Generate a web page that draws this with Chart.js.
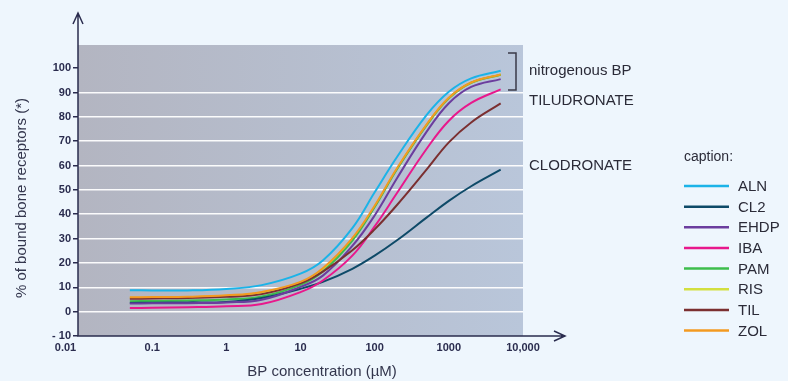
<!DOCTYPE html>
<html>
<head>
<meta charset="utf-8">
<script src="https://cdn.jsdelivr.net/npm/chart.js@4.4.1/dist/chart.umd.min.js"></script>
<style>
  html, body { margin: 0; padding: 0; background: #eef6fd; }
  canvas { display: block; }
</style>
</head>
<body>
<canvas id="chart" width="788" height="381"></canvas>
<script>
// BP concentration (µM) at which each curve was read
const concentrations = [0.05, 0.1, 0.3, 1, 3, 10, 20, 50, 100, 200, 500, 1000, 2000, 5000];

// % of bound bone receptors
const aln  = [8.8, 8.7, 8.7, 9.3, 10.9, 15.6, 21.0, 34.3, 49.0, 63.5, 80.7, 90.3, 95.8, 98.9];
const cl2  = [3.6, 3.7, 3.8, 4.0, 5.6, 9.4, 12.2, 17.6, 23.0, 29.3, 38.6, 45.5, 51.5, 58.3];
const ehdp = [3.3, 3.4, 3.5, 3.8, 4.9, 10.2, 14.8, 27.0, 39.5, 54.8, 73.8, 85.6, 92.3, 95.5];
const iba  = [1.5, 1.6, 1.8, 2.2, 3.1, 8.0, 12.8, 23.0, 35.0, 48.7, 66.8, 78.4, 85.7, 91.3];
const pam  = [4.3, 4.4, 4.6, 5.0, 6.2, 11.0, 16.5, 29.2, 43.0, 58.5, 76.5, 87.6, 94.0, 97.3];
const ris  = [5.7, 5.8, 5.9, 6.5, 7.9, 11.8, 17.4, 29.8, 43.2, 58.7, 76.6, 87.7, 94.0, 97.3];
const til  = [5.3, 5.4, 5.6, 6.1, 7.2, 11.6, 16.4, 25.2, 33.8, 43.8, 58.3, 69.5, 77.7, 85.5];
const zol  = [5.9, 6.0, 6.1, 6.7, 8.1, 12.2, 17.8, 30.2, 43.5, 58.9, 76.8, 87.8, 94.1, 97.4];

const seriesNames  = ['ALN', 'CL2', 'EHDP', 'IBA', 'PAM', 'RIS', 'TIL', 'ZOL'];
const seriesValues = [aln, cl2, ehdp, iba, pam, ris, til, zol];
const seriesColors = ['#1bb3e8', '#0e4a68', '#6b3d9e', '#e8188c', '#3dbd4b', '#d3df3f', '#7b2f30', '#f39a20'];
const drawOrder    = [0, 5, 3, 4, 6, 7, 2, 1]; // lower = on top

const xTickValues = [0.01, 0.1, 1, 10, 100, 1000, 10000];
const xTickLabels = ['0.01\u2003\u2003 ', '0.1', '1', '10', '100', '1000', '10,000'];
const yTickValues = [-10, 0, 10, 20, 30, 40, 50, 60, 70, 80, 90, 100];
const yTickLabels = ['- 10', '0', '10', '20', '30', '40', '50', '60', '70', '80', '90', '100'];

const NAVY = '#2a2c4e';
const TEXT = '#33364d';
const FONT = "'Liberation Sans', Arial, sans-serif";

const decor = {
    id: 'decor',
    beforeDraw(chart) {
        const { ctx, chartArea: a } = chart;
        ctx.save();
        ctx.fillStyle = '#eef6fd';
        ctx.fillRect(0, 0, chart.width, chart.height);
        const g = ctx.createLinearGradient(a.left, 0, a.right, 0);
        g.addColorStop(0, '#b3b5c1');
        g.addColorStop(1, '#b9c6da');
        ctx.fillStyle = g;
        ctx.fillRect(a.left, a.top, a.right - a.left, a.bottom - a.top);
        ctx.restore();
    },
    afterDraw(chart) {
        const { ctx, chartArea: a } = chart;
        ctx.save();

        // axes with open arrow heads
        ctx.strokeStyle = NAVY;
        ctx.lineWidth = 1.5;
        ctx.beginPath();
        ctx.moveTo(a.left, 14);
        ctx.lineTo(a.left, a.bottom);
        ctx.lineTo(565, a.bottom);
        ctx.moveTo(a.left - 5, 24);
        ctx.lineTo(a.left, 13);
        ctx.lineTo(a.left + 5, 24);
        ctx.moveTo(554, a.bottom - 5);
        ctx.lineTo(565, a.bottom);
        ctx.lineTo(554, a.bottom + 5);
        ctx.stroke();

        // bracket for nitrogenous BP
        ctx.strokeStyle = '#3a3a48';
        ctx.lineWidth = 1.5;
        ctx.beginPath();
        ctx.moveTo(508, 53);
        ctx.lineTo(516, 53);
        ctx.lineTo(516, 90);
        ctx.lineTo(508, 90);
        ctx.stroke();

        // axis titles
        ctx.fillStyle = TEXT;
        ctx.font = '15px ' + FONT;
        ctx.textAlign = 'center';
        ctx.textBaseline = 'middle';
        ctx.fillText('BP concentration (µM)', 322, 372);
        ctx.save();
        ctx.translate(22, 198);
        ctx.rotate(-Math.PI / 2);
        ctx.fillText('% of bound bone receptors (*)', 0, 0);
        ctx.restore();

        // annotations
        ctx.fillStyle = '#2b2b38';
        ctx.textAlign = 'left';
        ctx.font = '15px ' + FONT;
        ctx.fillText('nitrogenous BP', 529, 71);
        ctx.fillText('TILUDRONATE', 529, 101);
        ctx.fillText('CLODRONATE', 529, 166);

        // caption legend
        ctx.font = '14px ' + FONT;
        ctx.fillText('caption:', 684, 157);
        ctx.font = '15px ' + FONT;
        seriesNames.forEach((name, i) => {
            const y = 186 + i * 20.65;
            ctx.strokeStyle = seriesColors[i];
            ctx.lineWidth = 2.5;
            ctx.beginPath();
            ctx.moveTo(684, y);
            ctx.lineTo(729, y);
            ctx.stroke();
            ctx.fillStyle = '#2b2b38';
            ctx.fillText(name, 738, y + 1);
        });
        ctx.restore();
    }
};

const datasets = seriesNames.map((name, i) => ({
    label: name,
    data: concentrations.map((c, j) => ({ x: c, y: seriesValues[i][j] })),
    borderColor: seriesColors[i],
    borderWidth: 2,
    order: drawOrder[i],
    pointRadius: 0,
    fill: false,
    tension: 0.4
}));

new Chart(document.getElementById('chart'), {
    type: 'line',
    data: { datasets },
    options: {
        responsive: false,
        animation: false,
        layout: { padding: { left: 0, right: 265, top: 45, bottom: 0 } },
        plugins: {
            legend: { display: false },
            tooltip: { enabled: false }
        },
        scales: {
            x: {
                type: 'logarithmic',
                min: 0.01,
                max: 10000,
                afterBuildTicks: s => { s.ticks = xTickValues.map(v => ({ value: v })); },
                afterFit: s => { s.height = 45; },
                grid: { display: false, drawTicks: false },
                border: { display: false },
                ticks: {
                    autoSkip: false,
                    maxRotation: 0,
                    padding: 5,
                    color: NAVY,
                    font: { family: FONT, size: 11, weight: 'bold' },
                    callback: (v, i) => xTickLabels[i]
                }
            },
            y: {
                min: -10,
                max: 109.5,
                afterBuildTicks: s => { s.ticks = yTickValues.map(v => ({ value: v })); },
                afterFit: s => { s.width = 78; },
                grid: {
                    color: c => (c.tick && c.tick.value >= 0 && c.tick.value <= 90) ? 'rgba(255,255,255,0.95)' : 'transparent',
                    lineWidth: 1.5,
                    tickColor: NAVY,
                    tickLength: 5
                },
                border: { display: false },
                ticks: {
                    padding: 2,
                    color: NAVY,
                    font: { family: FONT, size: 11, weight: 'bold' },
                    callback: (v, i) => yTickLabels[i]
                }
            }
        }
    },
    plugins: [decor]
});
</script>
</body>
</html>
